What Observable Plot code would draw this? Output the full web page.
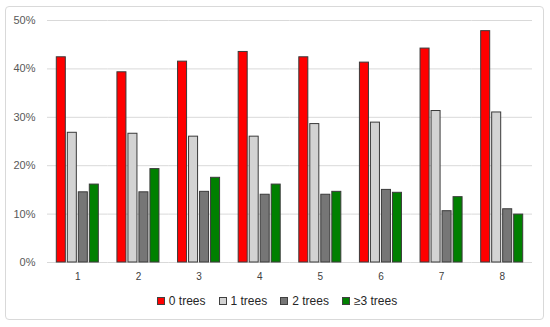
<!DOCTYPE html>
<html>
<head>
<meta charset="utf-8">
<script src="https://cdn.jsdelivr.net/npm/d3@7"></script>
<script src="https://cdn.jsdelivr.net/npm/@observablehq/plot@0.6"></script>
<style>
  html, body { margin: 0; padding: 0; background: #fff; }
  body { width: 550px; height: 327px; position: relative; overflow: hidden; font-family: "Liberation Sans", Arial, sans-serif; }
  #frame { position: absolute; left: 5px; top: 6px; width: 539px; height: 314px; border: 1px solid #d9d9d9; border-radius: 4px; box-sizing: border-box; }
  #chart { position: absolute; left: 0; top: 0; }
  #legend { position: absolute; top: 294px; left: 0; width: 554px; display: flex; justify-content: center; font-size: 12px; line-height: 14px; color: #262626; }
  .item { display: flex; align-items: center; margin: 0 6.5px; }
  .sw { width: 8px; height: 8px; box-sizing: border-box; border: 1px solid #404040; margin-right: 4px; }
</style>
</head>
<body>
<div id="frame"></div>
<div id="chart"></div>
<div id="legend"></div>
<script>
const groups = ["1", "2", "3", "4", "5", "6", "7", "8"];
const series = ["0 trees", "1 trees", "2 trees", "≥3 trees"];
const trees0 = [42.4, 39.3, 41.5, 43.5, 42.4, 41.3, 44.2, 47.8];
const trees1 = [26.8, 26.6, 26.0, 26.0, 28.6, 28.9, 31.3, 31.0];
const trees2 = [14.5, 14.5, 14.6, 14.0, 14.0, 15.0, 10.6, 11.0];
const trees3 = [16.1, 19.3, 17.5, 16.1, 14.6, 14.4, 13.5, 9.9];
const colors = ["#ff0000", "#d3d3d3", "#767676", "#008000"];
const yTicks = [0, 0.1, 0.2, 0.3, 0.4, 0.5];

const seriesValues = [trees0, trees1, trees2, trees3];
const data = [];
groups.forEach((g, i) => {
  series.forEach((s, j) => {
    data.push({group: g, series: s, value: seriesValues[j][i] / 100});
  });
});

const chart = Plot.plot({
  width: 550,
  height: 285,
  marginTop: 20,
  marginBottom: 23,
  marginLeft: 47,
  marginRight: 18,
  style: {fontFamily: "'Liberation Sans', Arial, sans-serif", background: "transparent"},
  fx: {domain: groups, paddingInner: 0, paddingOuter: 0, round: false},
  x: {domain: series, paddingInner: 0.18, paddingOuter: 0.845, round: false, axis: null},
  y: {domain: [0, 0.5]},
  color: {domain: series, range: colors},
  marks: [
    Plot.ruleY(yTicks, {stroke: "#d9d9d9", strokeWidth: 1}),
    Plot.barY(data, {fx: "group", x: "series", y: "value", fill: "series", stroke: "#3a3a3a", strokeWidth: 1}),
    Plot.axisY({ticks: yTicks, tickFormat: d3.format(".0%"), tickSize: 0, tickPadding: 12, fontSize: 11, color: "#595959", label: null}),
    Plot.axisFx({anchor: "bottom", tickSize: 0, tickPadding: 10, fontSize: 10, color: "#404040", label: null})
  ]
});
document.getElementById("chart").appendChild(chart);

const legend = document.getElementById("legend");
series.forEach((s, j) => {
  const item = document.createElement("div");
  item.className = "item";
  const sw = document.createElement("div");
  sw.className = "sw";
  sw.style.background = colors[j];
  const t = document.createElement("span");
  t.textContent = s;
  item.appendChild(sw);
  item.appendChild(t);
  legend.appendChild(item);
});
</script>
</body>
</html>
